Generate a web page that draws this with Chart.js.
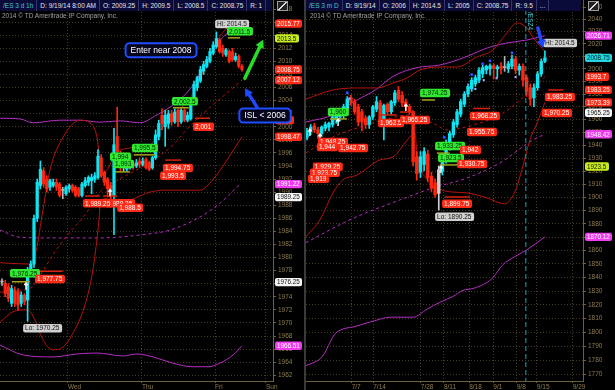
<!DOCTYPE html>
<html>
<head>
<meta charset="utf-8">
<title>/ES 3 d 1h and /ES 3 m D</title>
<script src="https://cdn.jsdelivr.net/npm/chart.js@4.4.1/dist/chart.umd.min.js"></script>
<style>
  html, body { margin: 0; padding: 0; background: #000; }
  body { width: 615px; height: 390px; position: relative; overflow: hidden; font-family: "Liberation Sans", Arial, sans-serif; }
  canvas { position: absolute; top: 0; }
  #leftChart { left: 0; }
  #rightChart { left: 306px; }
  .sep { position: absolute; left: 304px; top: 0; width: 2px; height: 390px; background: #3a3a3a; }
  .hdr { position: absolute; top: 0; height: 11px; background: #0b0b3a; font-size: 6.5px; line-height: 11px; color: #e4e4e4; white-space: nowrap; overflow: hidden; }
  .hdr span { display: inline-block; padding: 0 3px; border-right: 1px solid #35356e; }
  .hdr .sym { color: #45c6cf; }
  .copy { position: absolute; top: 12px; font-size: 6.5px; line-height: 8px; color: #a0a0a0; white-space: nowrap; }
  .icon { position: absolute; top: 1px; width: 9px; height: 8px; border: 1px solid #9a9a9a; background: linear-gradient(135deg, #222 42%, #ddd 42%, #ddd 58%, #222 58%); }
</style>
</head>
<body>
<canvas id="leftChart" width="305" height="390"></canvas>
<canvas id="rightChart" width="309" height="390"></canvas>
<div class="sep"></div>
<div class="hdr" style="left:0;width:272px"><span class="sym">/ES 3 d 1h</span><span>D: 9/19/14 8:00 AM</span><span>O: 2009.25</span><span>H: 2009.5</span><span>L: 2008.5</span><span>C: 2008.75</span><span>R: 1</span><span>&nbsp;</span></div>
<div class="icon" style="left:277px"></div>
<div class="hdr" style="left:306px;width:275px"><span class="sym">/ES 3 m D</span><span>D: 9/19/14</span><span>O: 2006</span><span>H: 2014.5</span><span>L: 2005</span><span>C: 2008.75</span><span>R: 9.5</span><span>...</span></div>
<div class="icon" style="left:588px"></div>
<div class="copy" style="left:2px">2014 © TD Ameritrade IP Company, Inc.</div>
<div class="copy" style="left:310px">2014 © TD Ameritrade IP Company, Inc.</div>

<script>
// ---- left panel: /ES, 3 days of hourly bars ----
const leftOpen = [1976.25,1976,1975.5,1973,1975,1974.75,1973,1974.25,1973.5,1977.75,
  1979,1986,1991,1993.25,1992,1990.75,1991,1991.5,1991.25,1990.25,
  1989.75,1990.5,1991,1990.75,1990.5,1989.5,1991,1991.5,1991.75,1992,
  1992.25,1995.25,1993,1992,1991,1989.5,1998.5,1995.75,1993.75,1993.5,
  1993.75,1994.25,1994,1994.75,1994.25,1995,1994.5,1993.75,1995.25,1998.5,
  2001.75,2000,2000.5,2002,2000.75,2002.5,2000.75,2002.5,2001,2001.25,
  2004,2006,2007,2008.5,2009.25,2010,2011.25,2012.25,2013.25,2012,
  2011,2011.5,2011.5,2010.25,2010.75,2009.25];
const leftHigh = [1976.75,1976.5,1976,1975.75,1975.5,1975.25,1974.75,1974.5,1978.5,1979.5,
  1986.5,1992,1994.75,1993.75,1992.5,1992,1992,1992,1991.5,1990.75,
  1991,1991.25,1991.25,1991,1990.75,1991.5,1992.25,1992.5,1992.75,1993,
  1996.5,1995.75,1993.25,1992.25,1991.5,1999.75,2003,1996.25,1994.25,1994.5,
  1994.75,1994.75,1995,1995.25,1995.25,1995.25,1994.75,1995.5,1999.5,2001,
  2002.75,2002.5,2002.5,2002.5,2002.75,2002.75,2002.75,2002.75,2002.25,2004.5,
  2007,2007.75,2009.25,2010,2010.75,2012,2013,2014.5,2013.5,2012.5,
  2012,2011.75,2012,2011.25,2011,2009.5];
const leftLow = [1975.75,1974,1973.25,1972.5,1972.5,1972,1972.5,1972.75,1970.25,1977.25,
  1978.5,1985.5,1990.5,1990.75,1990,1990.25,1990.75,1990.25,1989.25,1989,
  1989.5,1990,1990,1989.25,1989.25,1989.25,1990.75,1991,1989.75,1991.5,
  1992,1992.25,1991,1989.25,1988.5,1983.5,1995.5,1993.25,1993.25,1993.25,
  1993.5,1993.5,1993.75,1993.75,1994,1993.5,1993.25,1993.5,1995,1998,
  1999.5,1997,1999.75,2000.25,2000.5,2000,2000.5,2000.75,2000.75,2001,
  2003.75,2005.5,2006.75,2008,2009,2009.75,2011,2012,2011.25,2010.75,
  2010.75,2009.75,2010,2010,2009,2008.5];
const leftClose = [1976.25,1974.5,1973.75,1975.25,1973,1972.75,1974.25,1973.25,1977.75,1979,
  1986,1991.5,1993.5,1991.25,1990.5,1991.75,1991.5,1990.75,1989.5,1990.25,
  1990.75,1991,1990.25,1989.5,1989.5,1991.25,1991.75,1992.25,1992.25,1992.5,
  1995.5,1992.5,1991.5,1990.5,1989.5,1997.25,1996.25,1993.75,1993.75,1994,
  1994.5,1994,1994.5,1994.25,1994.75,1993.75,1993.5,1995.25,1998.75,2000.5,
  2000.5,2001.75,2002,2000.75,2002.25,2000.75,2002.5,2001,2001.75,2004.25,
  2006.5,2007.5,2008.75,2009.5,2010.25,2011.5,2012.5,2013.5,2011.5,2011.25,
  2011.75,2010,2010.25,2010.75,2009.25,2008.75];

// bands as [bar index, price] knots
const leftBandUpper = [[-0.6,1979.2],[8.75,1979.0],[10.6,1980.9],[12.8,1987.3],[15,1993.4],[19.1,1998.4],[24.4,2001.0],[27.5,2000.6],[29.7,1998.4],[30.6,1995.0],[31.6,1993.0],[33,1993.5],[35.3,1995.7],[40.9,1996.8],[46.25,1997.2],[49.4,1999.5],[55.6,2002.6],[60.3,2005.6],[65,2011.0],[69.7,2014.8],[75,2015.77]];
const leftBandLower = [[-0.6,1970.1],[3.4,1971.7],[7.8,1972.0],[9.1,1971.5],[10.6,1970.1],[12.5,1967.7],[15.9,1965.9],[19.1,1966.3],[21.9,1968.2],[25.9,1972.7],[28.4,1978.1],[30,1984.2],[30.9,1988.6],[32.2,1989.0],[34.4,1988.8],[38.4,1988.5],[41.6,1989.1],[46.25,1990.0],[50.9,1990.3],[57.2,1990.3],[61.9,1990.3],[65.9,1991.9],[70.3,1994.9],[75,1998.47]];
const leftBandMid = [[-0.6,1974.7],[8.75,1975.3],[11.9,1977.3],[16.6,1980.9],[21.25,1983.9],[25.9,1986.5],[30.6,1990.0],[35.3,1991.6],[43.1,1993.7],[52.5,1996.8],[59.7,2000.6],[66.6,2003.6],[75,2007.12]];
const leftEnvUpper = [[-0.6,2001.3],[5.6,2001.2],[9.7,2000.6],[18.1,2001.0],[24.4,2001.0],[30.6,2000.7],[36.9,2000.9],[43.1,2000.6],[48.4,2001.8],[52.5,2003.0],[57.2,2004.9],[60.3,2006.8],[63.4,2009.4],[66.6,2012.2],[69.7,2014.0],[75,2015.6]];
const leftEnvMid = [[-0.6,1984.2],[5.6,1983.1],[15,1983.0],[30.6,1983.0],[43.1,1983.45],[52.5,1984.2],[61.9,1986.2],[68.1,1988.3],[74.4,1991.1],[75,1991.22]];
const leftEnvLower = [[-0.6,1966.6],[6.6,1965.1],[15.9,1964.8],[23.4,1965.25],[29.7,1965.4],[37.8,1964.95],[42.2,1965.25],[47.2,1964.8],[53.4,1963.85],[59.4,1963.3],[64.4,1963.3],[68.1,1963.85],[72.2,1965.1],[75,1966.51]];

const leftPriceTicks = [1962,1964,1966,1968,1970,1972,1974,1976,1978,1980,1982,1984,1986,1988,1990,
  1992,1994,1996,1998,2000,2002,2004,2006,2008,2010,2012,2014,2016,2018];
const leftDayTicks = [20.6, 43.75, 66.6, 82.5];
const leftDayLabels = ['Wed', 'Thu', 'Fri', 'Sun'];

const leftMarkers = [
  {i: 66.6, v: 2015.7, t: 'Hi: 2014.5', k: 'grey'},
  {i: 70.3, v: 2014.6, t: '2,011.5', k: 'green'},
  {i: 53.1, v: 2003.9, t: '2,002.5', k: 'green'},
  {i: 59.7, v: 2000.0, t: '2,001', k: 'red'},
  {i: 40.6, v: 1996.75, t: '1,995.5', k: 'green'},
  {i: 33.75, v: 1995.4, t: '1,994', k: 'green'},
  {i: 34.7, v: 1994.3, t: '1,993', k: 'green'},
  {i: 50.3, v: 1993.7, t: '1,994.75', k: 'red'},
  {i: 49.4, v: 1992.5, t: '1,993.5', k: 'red'},
  {i: 32.2, v: 1988.3, t: '1,989.25', k: 'red'},
  {i: 25.3, v: 1988.3, t: '1,989.25', k: 'red'},
  {i: 36, v: 1987.6, t: '1,988.5', k: 'red'},
  {i: 2.5, v: 1977.6, t: '1,976.25', k: 'green'},
  {i: 10.3, v: 1976.7, t: '1,977.75', k: 'red'},
  {i: 6.6, v: 1969.2, t: 'Lo: 1970.25', k: 'grey'}
];
const leftLevels = [
  {a: 70.6, b: 74.4, v: 2013.6, k: 'olive'},
  {a: 53.4, b: 58.4, v: 2002.9, k: 'olive'},
  {a: 60.3, b: 65, v: 2001.3, k: 'red'},
  {a: 41.2, b: 48.1, v: 1995.7, k: 'olive'},
  {a: 35.3, b: 40, v: 1993.1, k: 'olive'},
  {a: 51, b: 56, v: 1994.9, k: 'red'},
  {a: 26, b: 30.6, v: 1989.4, k: 'red'},
  {a: 31.6, b: 36, v: 1989.4, k: 'red'},
  {a: 3.1, b: 8.75, v: 1976.3, k: 'olive'},
  {a: 10.6, b: 19, v: 1977.9, k: 'red'}
];
const leftTags = [
  {v: 2015.77, k: 'red'}, {v: 2013.5, k: 'yellow'}, {v: 2008.75, k: 'red'}, {v: 2007.12, k: 'red'},
  {v: 2001, k: 'red'}, {v: 1998.47, k: 'red'}, {v: 1991.22, k: 'magenta'}, {v: 1989.25, k: 'white'},
  {v: 1976.25, k: 'white'}, {v: 1966.51, k: 'magenta'}
];
const leftUps = [[7.5, 1976.3], [33.75, 1990.6]];
const leftNotes = [{i: 49.7, v: 2011.7, t: 'Enter near 2008'}, {i: 82.2, v: 2001.7, t: 'ISL < 2006'}];
const leftArrows = [
  {from: [75.9, 2007.4], to: [81.6, 2013.3], k: 'green'},
  {from: [79.7, 2003.0], to: [75.9, 2005.9], k: 'blue'}
];

// ---- right panel: /ES, 3 months of daily bars ----
const rightOpen = [1946,1951,1955,1952,1949,1953,1954,1956,1960,1962,
  1964,1968,1977,1974,1970,1966,1961,1956,1962,1968,
  1973,1960,1972,1966,1973,1983,1979,1974,1970,1966,
  1931,1919,1925,1933,1916,1911,1903,1920,1928,1938,
  1948,1956,1964,1972,1980,1984,1988,1991,1996,1999,
  2000,2002.5,2000,2002,2001,2000,2002,2008,1999,2002,
  1993,1985,1977,1985,1996,2006];
const rightHigh = [1953,1956,1957,1954,1955,1958,1958,1963,1965,1968,
  1972,1978,1979,1976,1972,1968,1963,1963,1971,1978,
  1975,1972,1973,1975,1983,1986,1982,1976,1972,1967,
  1935,1935,1938,1936,1919,1914,1924,1932,1944,1951,
  1960,1968,1976,1982,1988,1993,1995,2001,2003,2003,
  2004,2004,2003,2005,2010,2006,2011,2010,2004,2004,
  1995,1988,1988,1998,2008,2014.5];
const rightLow = [1944,1948,1950,1945,1947,1951,1951,1954,1957,1959,
  1961,1966,1971,1964,1955,1951,1953,1953,1960,1966,
  1956,1944,1964,1964,1971,1974,1970,1967,1964,1924,
  1913,1915,1920,1912,1904,1900,1890.25,1917,1926,1936,
  1946,1954,1962,1970,1978,1982,1986,1989,1993,1996,
  1995,1992,1993,1996,1998,1997,2000,1996,1995,1986,
  1978,1971,1970,1983,1994,2005];
const rightClose = [1951,1954,1952,1949,1954,1956,1957,1962,1964,1966,
  1970,1976,1973,1966,1958,1958,1956,1962,1970,1974,
  1958,1971,1966,1974,1981,1976,1973,1970,1966,1927,
  1918,1931,1935,1915,1907,1902,1921,1930,1941,1949,
  1958,1966,1974,1980,1986,1991,1993,1999,2001,2002,
  2002.5,2000.5,2001.5,2000,2001,2004,2008,1999,2002,1991,
  1982,1976,1985,1996,2006,2008.75];

const rightBandUpper = [[-0.3,1976],[7.1,1983.2],[13.7,1984.8],[19.1,1984.8],[23.5,1988.7],[27.3,1992.7],[30.9,1999.1],[36.3,2001.5],[41,2001.5],[46.4,2009.5],[50.8,2015.1],[54.6,2028.9],[57.4,2037.0],[60.1,2032.9],[61.7,2025.6],[63.6,2018.5],[65,2014.0]];
const rightBandLower = [[-0.3,1870.3],[3.55,1883.0],[7.1,1903.3],[9.8,1913.2],[13.7,1917.0],[19.9,1928.5],[23.5,1930.9],[28.1,1946.3],[29.5,1949.4],[30.05,1934.0],[32.8,1913.2],[35.5,1907.1],[39.1,1904.1],[43.7,1903.3],[49.2,1899.5],[54,1895.0],[56.8,1904.1],[58.7,1920.9],[60.9,1944.0],[63.1,1958.8],[65,1973.39]];
const rightBandMid = [[-0.3,1934.0],[7.1,1946.3],[14.5,1954.1],[20.8,1959.6],[28.1,1963.5],[34.4,1957.2],[38.25,1951.8],[45.4,1955.7],[52.7,1963.5],[58.2,1975.3],[65,1993.7]];
const rightEnvUpper = [[-0.3,1958.0],[7.1,1963.5],[12.6,1973.5],[19.1,1984.0],[23.5,1994.0],[30.05,2001.0],[36.3,2003.1],[42.6,2008.7],[49.2,2016.7],[54.6,2020.8],[60.1,2023.2],[65,2026.71]];
const rightEnvMid = [[-0.3,1865.8],[11.75,1883.0],[25.4,1898.0],[34.4,1907.1],[43.7,1914.7],[52.7,1926.2],[61.7,1944.0],[65,1948.42]];
const rightEnvLower = [[-0.3,1776.3],[4.1,1782.6],[7.65,1799.0],[9.8,1802.5],[12.6,1804.0],[15.3,1806.1],[19.1,1809.0],[22.7,1811.1],[29,1811.1],[32.8,1816.9],[36.3,1821.9],[39.9,1826.2],[42.6,1830.6],[45.4,1832.0],[49.2,1836.4],[50.8,1840.0],[53.55,1849.6],[56.3,1854.7],[60.1,1860.6],[65,1870.12]];
const rightPivotHighs = [[11,1981],[37.5,1946],[45,1995.5],[48,2004],[50,2006.5],[56,2013]];
const rightPivotLows = [[11.6,1976.5],[46,1984],[48.3,1991],[51.8,1992.5],[57,1993.5]];

const rightPriceTicks = [1770,1780,1790,1800,1810,1820,1830,1840,1850,1860,1870,1880,1890,1900,1910,
  1920,1930,1940,1950,1960,1970,1980,1990,2000,2010,2020,2030,2040,2050];
const rightDateTicks = [12.2, 18.1, 31.1, 37.4, 44.3, 50.9, 57.3, 62.8, 72.6];
const rightDateLabels = ['7/7', '7/14', '7/28', '8/11', '8/18', '9/1', '9/8', '9/15', '9/29'];

const rightMarkers = [
  {i: 5.7, v: 1965.8, t: '1,960', k: 'green'},
  {i: 30.9, v: 1980.8, t: '1,974.25', k: 'green'},
  {i: 19.4, v: 1957.2, t: '1,962.5', k: 'red'},
  {i: 25.4, v: 1959.6, t: '1,965.25', k: 'red'},
  {i: 3, v: 1942.5, t: '1,948.25', k: 'red'},
  {i: 2.7, v: 1938.6, t: '1,944', k: 'red'},
  {i: 8.5, v: 1937.8, t: '1,942.75', k: 'red'},
  {i: 1.6, v: 1923.2, t: '1,929.25', k: 'red'},
  {i: 0.8, v: 1918.6, t: '1,923.75', k: 'red'},
  {i: 0.3, v: 1914.0, t: '1,919', k: 'red'},
  {i: 35, v: 1939.4, t: '1,933.25', k: 'green'},
  {i: 35.8, v: 1930.0, t: '1,923.5', k: 'green'},
  {i: 41.8, v: 1936.2, t: '1,942', k: 'red'},
  {i: 41, v: 1925.5, t: '1,930.75', k: 'red'},
  {i: 36.9, v: 1895.0, t: '1,899.75', k: 'red'},
  {i: 35, v: 1885.3, t: 'Lo: 1890.25', k: 'grey'},
  {i: 43.7, v: 1950.2, t: '1,955.75', k: 'red'},
  {i: 44.5, v: 1962.7, t: '1,968.25', k: 'red'},
  {i: 65, v: 1977.7, t: '1,983.25', k: 'red'},
  {i: 64.2, v: 1965.0, t: '1,970.25', k: 'red'},
  {i: 64.5, v: 2020.8, t: 'Hi: 2014.5', k: 'grey'}
];
const rightLevels = [
  {a: 6.3, b: 10.9, v: 1960.4, k: 'olive'},
  {a: 31.4, b: 35, v: 1975.3, k: 'olive'},
  {a: 35.5, b: 39, v: 1933.8, k: 'olive'},
  {a: 36.3, b: 44, v: 1924.7, k: 'olive'},
  {a: 37.7, b: 44.5, v: 1900.2, k: 'red'},
  {a: 45.4, b: 50, v: 1968.6, k: 'red'},
  {a: 65.9, b: 70, v: 1983.2, k: 'red'},
  {a: 25.4, b: 29.5, v: 1965.8, k: 'red'},
  {a: 19.6, b: 24.5, v: 1963.5, k: 'red'}
];
const rightTags = [
  {v: 2026.71, k: 'magenta'}, {v: 2008.75, k: 'cyan'}, {v: 1993.7, k: 'red'}, {v: 1983.25, k: 'red'},
  {v: 1973.39, k: 'red'}, {v: 1965.25, k: 'white'}, {v: 1948.42, k: 'magenta'}, {v: 1923.5, k: 'yellow'},
  {v: 1870.12, k: 'magenta'}
];
const rightUps = [[0.8, 1953.3], [3.55, 1949.4], [8.5, 1961.2], [27, 1972.9], [36.6, 1924.7]];
const rightArrows = [{from: [63.1, 2032.9], to: [64.5, 2016.7], k: 'blue'}];
const rightRoll = {at: 59.8, t: '/ESZ4'};
const rightSelected = 36;

// ---- look ----
const FONT = '"Liberation Sans", Arial, sans-serif';
Chart.defaults.font.family = FONT;
Chart.defaults.font.size = 6.5;

const TICK_COLOR = '#8f7d4c';
const GRID_COLOR = '#463c22';
const AXIS_COLOR = '#6e6038';
const UP = '#10e4f2', DOWN = '#ff2610', FLAT = '#b4b4b4', PICKED = '#cfcfcf';
const BAND_RED = '#b5150e', BAND_PURPLE = '#b42ec2';
const FILL = {
  red: ['#ff2b16', '#ffffff'], green: ['#2fe82f', '#002200'], grey: ['#d0d0d0', '#111111'],
  magenta: ['#ee3cee', '#ffffff'], white: ['#f4f4f4', '#111111'], yellow: ['#c6ec1e', '#111111'],
  cyan: ['#20d6e0', '#002020']
};
const LINE = {olive: '#a6a61e', red: '#d8200f', green: '#27dd27', blue: '#1f48ff'};

function bubble(ctx, x, y, text, kind, size) {
  ctx.font = size + 'px ' + FONT;
  const w = Math.ceil(ctx.measureText(text).width) + 4;
  const h = size + 2;
  ctx.fillStyle = FILL[kind][0];
  ctx.beginPath();
  ctx.roundRect(x, y - h / 2, w, h, 2);
  ctx.fill();
  ctx.fillStyle = FILL[kind][1];
  ctx.textAlign = 'left';
  ctx.textBaseline = 'middle';
  ctx.fillText(text, x + 2, y + 0.5);
}

function arrow(ctx, x1, y1, x2, y2, color) {
  const ang = Math.atan2(y2 - y1, x2 - x1);
  const head = 8;
  const bx = x2 - Math.cos(ang) * head, by = y2 - Math.sin(ang) * head;
  const nx = Math.cos(ang + Math.PI / 2) * 4.5, ny = Math.sin(ang + Math.PI / 2) * 4.5;
  ctx.strokeStyle = color;
  ctx.fillStyle = color;
  ctx.lineWidth = 3.5;
  ctx.lineCap = 'round';
  ctx.beginPath();
  ctx.moveTo(x1, y1);
  ctx.lineTo(bx, by);
  ctx.stroke();
  ctx.beginPath();
  ctx.moveTo(x2, y2);
  ctx.lineTo(bx + nx, by + ny);
  ctx.lineTo(bx - nx, by - ny);
  ctx.closePath();
  ctx.fill();
}

function note(ctx, cx, cy, text) {
  ctx.font = '8.5px ' + FONT;
  const w = ctx.measureText(text).width + 10, h = 14;
  ctx.beginPath();
  ctx.roundRect(cx - w / 2, cy - h / 2, w, h, 4);
  ctx.fillStyle = '#05051c';
  ctx.fill();
  ctx.lineWidth = 2;
  ctx.strokeStyle = '#1f4dff';
  ctx.stroke();
  ctx.fillStyle = '#ffffff';
  ctx.textAlign = 'center';
  ctx.textBaseline = 'middle';
  ctx.fillText(text, cx, cy + 0.5);
}

// draws the study labels, levels, arrows and price tags on top of the bars
function overlay(cfg) {
  return {
    id: 'overlay',
    afterDatasetsDraw(chart) {
      const {ctx, chartArea: area, scales} = chart;
      const X = v => scales.x.getPixelForValue(v);
      const Y = v => scales.y.getPixelForValue(v);
      ctx.save();

      if (cfg.roll) {
        const x = X(cfg.roll.at);
        ctx.strokeStyle = '#1fa6b4';
        ctx.lineWidth = 1;
        ctx.setLineDash([5, 3]);
        ctx.beginPath();
        ctx.moveTo(x, area.top + 10);
        ctx.lineTo(x, area.bottom);
        ctx.stroke();
        ctx.setLineDash([]);
        ctx.save();
        ctx.translate(x + 1, area.top + 12);
        ctx.rotate(Math.PI / 2);
        ctx.fillStyle = '#3cc8d6';
        ctx.font = '6.5px ' + FONT;
        ctx.textAlign = 'left';
        ctx.textBaseline = 'bottom';
        ctx.fillText(cfg.roll.t, 0, 0);
        ctx.restore();
      }

      cfg.levels.forEach(l => {
        ctx.strokeStyle = LINE[l.k];
        ctx.lineWidth = 1.5;
        ctx.beginPath();
        ctx.moveTo(X(l.a), Y(l.v));
        ctx.lineTo(X(l.b), Y(l.v));
        ctx.stroke();
      });

      cfg.ups.forEach(([i, v]) => {
        const x = X(i), y = Y(v);
        ctx.strokeStyle = '#ffffff';
        ctx.fillStyle = '#ffffff';
        ctx.lineWidth = 1.4;
        ctx.beginPath();
        ctx.moveTo(x, y + 2);
        ctx.lineTo(x, y + 8);
        ctx.stroke();
        ctx.beginPath();
        ctx.moveTo(x, y);
        ctx.lineTo(x - 2.5, y + 3.5);
        ctx.lineTo(x + 2.5, y + 3.5);
        ctx.closePath();
        ctx.fill();
      });

      cfg.markers.forEach(m => bubble(ctx, X(m.i), Y(m.v), m.t, m.k, 6.5));

      cfg.tags.forEach(t => bubble(ctx, area.right + 2, Y(t.v), String(t.v), t.k, 6.3));

      cfg.arrows.forEach(a => arrow(ctx, X(a.from[0]), Y(a.from[1]), X(a.to[0]), Y(a.to[1]), LINE[a.k]));

      cfg.notes.forEach(n => note(ctx, X(n.i), Y(n.v), n.t));

      ctx.restore();
    }
  };
}

function candleSets(open, high, low, close, bodyWidth, picked) {
  const colors = open.map((o, i) => i === picked ? PICKED : close[i] > o ? UP : close[i] < o ? DOWN : FLAT);
  return [
    {
      type: 'bar',
      data: open.map((o, i) => ({x: i, y: [low[i], high[i]]})),
      backgroundColor: colors,
      barThickness: 1,
      grouped: false,
      order: 1
    },
    {
      type: 'bar',
      data: open.map((o, i) => ({x: i, y: [o, close[i]]})),
      backgroundColor: colors,
      barThickness: bodyWidth,
      minBarLength: 1,
      grouped: false,
      order: 0
    }
  ];
}

function bandLine(points, color, dashed) {
  return {
    type: 'line',
    data: points.map(([x, y]) => ({x, y})),
    borderColor: color,
    borderWidth: 1,
    borderDash: dashed ? [3, 3] : [],
    pointRadius: 0,
    cubicInterpolationMode: 'monotone',
    fill: false,
    order: 3
  };
}

function dots(points, color, style) {
  return {
    type: 'line',
    data: points.map(([x, y]) => ({x, y})),
    showLine: false,
    pointRadius: 1.5,
    pointStyle: style,
    pointBackgroundColor: color,
    pointBorderWidth: 0,
    order: -1
  };
}

function makePanel(canvasId, p) {
  return new Chart(document.getElementById(canvasId), {
    type: 'bar',
    data: {datasets: p.datasets},
    options: {
      responsive: false,
      animation: false,
      devicePixelRatio: 1,
      events: [],
      layout: {padding: 0, autoPadding: false},
      plugins: {legend: {display: false}, tooltip: {enabled: false}},
      scales: {
        x: {
          type: 'linear',
          min: p.xMin,
          max: p.xMax,
          bounds: 'data',
          offset: false,
          afterFit: s => { s.height = 9; s.paddingLeft = 0; s.paddingRight = 0; },
          afterBuildTicks: s => { s.ticks = p.xTicks.map(v => ({value: v})); },
          ticks: {
            callback: (v, i) => p.xLabels[i],
            autoSkip: false,
            maxRotation: 0,
            align: 'start',
            padding: 0,
            color: TICK_COLOR,
            font: {size: 6.5}
          },
          grid: {color: GRID_COLOR, tickColor: AXIS_COLOR, tickLength: 2, offset: false},
          border: {color: AXIS_COLOR, dash: [1, 2]}
        },
        y: {
          type: p.yType,
          position: 'right',
          min: p.yMin,
          max: p.yMax,
          bounds: 'data',
          afterFit: s => { s.width = 32; s.paddingTop = 0; s.paddingBottom = 0; },
          afterBuildTicks: s => { s.ticks = p.yTicks.map(v => ({value: v})); },
          ticks: {
            callback: v => String(v),
            autoSkip: false,
            padding: 2,
            color: TICK_COLOR,
            font: {size: 6.5}
          },
          grid: {color: GRID_COLOR, tickColor: AXIS_COLOR, tickLength: 3},
          border: {color: AXIS_COLOR, dash: [1, 2]}
        }
      }
    },
    plugins: [overlay(p.overlay)]
  });
}

// Left chart: 3 days, 1 hour
makePanel('leftChart', {
  datasets: [
    ...candleSets(leftOpen, leftHigh, leftLow, leftClose, 2.6, -1),
    bandLine(leftBandUpper, BAND_RED, false),
    bandLine(leftBandLower, BAND_RED, false),
    bandLine(leftBandMid, BAND_RED, true),
    bandLine(leftEnvUpper, BAND_PURPLE, false),
    bandLine(leftEnvMid, BAND_PURPLE, true),
    bandLine(leftEnvLower, BAND_PURPLE, false)
  ],
  xMin: -0.625, xMax: 84.69,
  xTicks: leftDayTicks, xLabels: leftDayLabels,
  yType: 'linear', yMin: 1961.12, yMax: 2019.38,
  yTicks: leftPriceTicks,
  overlay: {levels: leftLevels, ups: leftUps, markers: leftMarkers, tags: leftTags, arrows: leftArrows, notes: leftNotes}
});

// Right chart: 3 months, daily, log price scale
makePanel('rightChart', {
  datasets: [
    ...candleSets(rightOpen, rightHigh, rightLow, rightClose, 2.8, rightSelected),
    bandLine(rightBandUpper, BAND_RED, false),
    bandLine(rightBandLower, BAND_RED, false),
    bandLine(rightBandMid, BAND_RED, true),
    bandLine(rightEnvUpper, BAND_PURPLE, false),
    bandLine(rightEnvMid, BAND_PURPLE, true),
    bandLine(rightEnvLower, BAND_PURPLE, false),
    dots(rightPivotHighs, '#2a55ff', 'circle'),
    dots(rightPivotLows, '#a8a8ff', 'rect')
  ],
  xMin: -0.273, xMax: 75.41,
  xTicks: rightDateTicks, xLabels: rightDateLabels,
  yType: 'logarithmic', yMin: 1765.5, yMax: 2055.8,
  yTicks: rightPriceTicks,
  overlay: {roll: rightRoll, levels: rightLevels, ups: rightUps, markers: rightMarkers, tags: rightTags, arrows: rightArrows, notes: []}
});
</script>
</body>
</html>
